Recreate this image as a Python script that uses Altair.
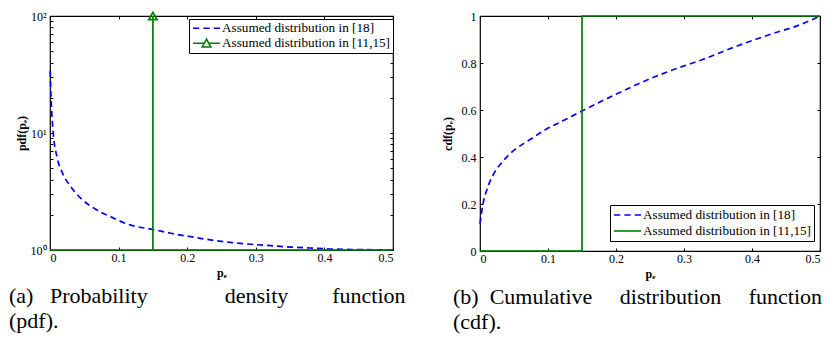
import altair as alt
import pandas as pd

# ---------------- data ----------------
SERIES = ["Assumed distribution in [18]", "Assumed distribution in [11,15]"]

# (a) pdf, blue dashed curve
pdf_p = [0.0003, 0.0015, 0.0048, 0.0102, 0.0184, 0.0305, 0.045, 0.0645, 0.0887,
         0.1177, 0.15, 0.176, 0.205, 0.234, 0.263, 0.292, 0.321, 0.35, 0.379,
         0.408, 0.44, 0.47, 0.5]
pdf_v = [34.0, 20.4, 9.9, 6.26, 4.52, 3.47, 2.76, 2.27, 1.92,
         1.63, 1.50, 1.39, 1.30, 1.22, 1.16, 1.12, 1.09, 1.06, 1.04,
         1.02, 1.01, 1.005, 1.0]

# (a) pdf, green impulse at p = 0.15
step_pdf_p = [0.0, 0.15, 0.15, 0.15, 0.5]
step_pdf_v = [1.0, 1.0, 100.0, 1.0, 1.0]
marker_p = [0.15]
marker_v = [100.0]

# (b) cdf, blue dashed curve
cdf_p = [0.0, 0.0038, 0.011, 0.0207, 0.0328, 0.0497, 0.0714, 0.098, 0.122,
         0.15, 0.1994, 0.2526, 0.279, 0.3275, 0.376, 0.424, 0.4725, 0.5]
cdf_v = [0.115, 0.191, 0.268, 0.331, 0.379, 0.428, 0.47, 0.519, 0.554,
         0.596, 0.666, 0.736, 0.766, 0.815, 0.870, 0.919, 0.965, 1.0]

# (b) cdf, green step at p = 0.15
step_cdf_p = [0.0, 0.15, 0.15, 0.5]
step_cdf_v = [0.0, 0.0, 1.0, 1.0]

# ticks
x_ticks = [0, 0.1, 0.2, 0.3, 0.4, 0.5]
pdf_major = [1, 10, 100]
pdf_minor = [1, 2, 3, 4, 5, 6, 7, 8, 9, 10, 20, 30, 40, 50, 60, 70, 80, 90, 100]
cdf_ticks = [0, 0.2, 0.4, 0.6, 0.8, 1]

NB = "\u00a0"
caption_a = ["(a)" + NB * 3 + "Probability" + NB * 14 + "density" + NB * 8 + "function", "(pdf)."]
caption_b = ["(b)" + NB * 2 + "Cumulative" + NB * 5 + "distribution" + NB * 5 + "function", "(cdf)."]

# ---------------- styling ----------------
BLUE = "#0000ff"
GREEN = "#008000"
SERIF = "Liberation Serif"
W_L, H_L = 343, 234
W_R, H_R = 340, 235
LEG_FS = 13.2

DASH_PATH = "M-1,0H-0.538M-0.231,0H0.231M0.538,0H1"
TRI_PATH = "M-1,0H-0.165M0.165,0H1M-0.32,0.28L0,-0.3L0.32,0.28Z"
LINE_PATH = "M-1,0H1"

xs = alt.Scale(domain=[0, 0.5], nice=False, zero=False)
ys_pdf = alt.Scale(type="log", domain=[1, 100], nice=False)
ys_cdf = alt.Scale(domain=[0, 1], nice=False, zero=False)


def tick_axis(orient, offset, values):
    return alt.Axis(orient=orient, offset=offset, values=values, labels=False,
                    ticks=True, tickSize=3, tickColor="black", tickWidth=1,
                    domain=False, grid=False, title=None)


def x_label_axis():
    return alt.Axis(orient="bottom", values=x_ticks, format="~g", ticks=False,
                    domain=False, grid=False, labelPadding=2, title="p\u2091",
                    titlePadding=4)


def legend(x, y, pad, clip, extra):
    return alt.Legend(
        title=None, orient="none", legendX=x, legendY=y, direction="vertical",
        strokeColor="black", fillColor="white", padding=pad, clipHeight=clip,
        symbolSize=729, symbolOffset=1, labelFont=SERIF, labelFontSize=LEG_FS,
        labelColor="black", labelLimit=400, labelOffset=1,
        labelExpr="datum.label + '" + extra + "'",
    )


def caption(lines, dx):
    return alt.TitleParams(text=lines, orient="bottom", anchor="start", frame="group",
                           dx=dx, offset=8, font=SERIF, fontSize=22,
                           fontWeight="normal", color="black", lineHeight=25)


# ---------------- (a) pdf panel ----------------
blue_pdf = pd.DataFrame({"p": pdf_p, "v": pdf_v, "s": SERIES[0]})
green_pdf = pd.DataFrame({"p": step_pdf_p, "v": step_pdf_v,
                          "i": list(range(len(step_pdf_p))), "s": SERIES[1]})
marker_df = pd.DataFrame({"p": marker_p, "v": marker_v})
legend_pdf = pd.concat([blue_pdf, green_pdf[["p", "v", "s"]]])

a_blue = alt.Chart(blue_pdf).mark_line(
    color=BLUE, strokeDash=[6, 4], strokeWidth=1.7, interpolate="monotone"
).encode(
    x=alt.X("p:Q", scale=xs, axis=x_label_axis()),
    y=alt.Y("v:Q", scale=ys_pdf, axis=alt.Axis(
        orient="left", values=pdf_major, ticks=False, domain=False, grid=False,
        labelPadding=4, title="pdf(p\u2091)", titlePadding=2,
        labelExpr="datum.value == 1 ? '10\u2070' : datum.value == 10 ? '10\u00b9' : '10\u00b2'")),
)

a_green = alt.Chart(green_pdf).mark_line(color=GREEN, strokeWidth=1.7).encode(
    x=alt.X("p:Q", scale=xs, axis=tick_axis("top", -H_L, x_ticks)),
    y=alt.Y("v:Q", scale=ys_pdf, axis=tick_axis("right", -W_L, pdf_minor)),
    order="i:Q",
)

a_marker = alt.Chart(marker_df).mark_point(
    shape="triangle-up", filled=False, color=GREEN, size=70, strokeWidth=1.7, opacity=1
).encode(
    x=alt.X("p:Q", scale=xs, axis=tick_axis("bottom", -H_L, x_ticks)),
    y=alt.Y("v:Q", scale=ys_pdf, axis=tick_axis("left", -W_L, pdf_minor)),
)

leg_a = legend(139, 3, 2, 14.5, "")
a_legend = alt.Chart(legend_pdf).mark_point(opacity=0, filled=False).encode(
    x=alt.X("p:Q", scale=xs, axis=None),
    y=alt.Y("v:Q", scale=ys_pdf, axis=None),
    color=alt.Color("s:N", scale=alt.Scale(domain=SERIES, range=[BLUE, GREEN]), legend=leg_a),
    shape=alt.Shape("s:N", scale=alt.Scale(domain=SERIES, range=[DASH_PATH, TRI_PATH]), legend=leg_a),
)

left = alt.layer(a_blue, a_green, a_marker, a_legend).resolve_axis(
    x="independent", y="independent"
).properties(width=W_L, height=H_L, title=caption(caption_a, -41))

# ---------------- (b) cdf panel ----------------
blue_cdf = pd.DataFrame({"p": cdf_p, "v": cdf_v, "s": SERIES[0]})
green_cdf = pd.DataFrame({"p": step_cdf_p, "v": step_cdf_v,
                          "i": list(range(len(step_cdf_p))), "s": SERIES[1]})
legend_cdf = pd.concat([blue_cdf, green_cdf[["p", "v", "s"]]])

b_blue = alt.Chart(blue_cdf).mark_line(
    color=BLUE, strokeDash=[6, 4], strokeWidth=1.7, interpolate="monotone"
).encode(
    x=alt.X("p:Q", scale=xs, axis=x_label_axis()),
    y=alt.Y("v:Q", scale=ys_cdf, axis=alt.Axis(
        orient="left", values=cdf_ticks, format="~g", ticks=False, domain=False,
        grid=False, labelPadding=4, title="cdf(p\u2091)", titlePadding=7)),
)

b_green = alt.Chart(green_cdf).mark_line(color=GREEN, strokeWidth=1.7).encode(
    x=alt.X("p:Q", scale=xs, axis=tick_axis("top", -H_R, x_ticks)),
    y=alt.Y("v:Q", scale=ys_cdf, axis=tick_axis("right", -W_R, cdf_ticks)),
    order="i:Q",
)

b_ticks = alt.Chart(green_cdf).mark_line(opacity=0).encode(
    x=alt.X("p:Q", scale=xs, axis=tick_axis("bottom", -H_R, x_ticks)),
    y=alt.Y("v:Q", scale=ys_cdf, axis=tick_axis("left", -W_R, cdf_ticks)),
    order="i:Q",
)

leg_b = legend(130, 189, 2, 16, NB * 3)
b_legend = alt.Chart(legend_cdf).mark_point(opacity=0, filled=False).encode(
    x=alt.X("p:Q", scale=xs, axis=None),
    y=alt.Y("v:Q", scale=ys_cdf, axis=None),
    color=alt.Color("s:N", scale=alt.Scale(domain=SERIES, range=[BLUE, GREEN]), legend=leg_b),
    shape=alt.Shape("s:N", scale=alt.Scale(domain=SERIES, range=[DASH_PATH, LINE_PATH]), legend=leg_b),
)

right = alt.layer(b_blue, b_green, b_ticks, b_legend).resolve_axis(
    x="independent", y="independent"
).properties(width=W_R, height=H_R, title=caption(caption_b, -27))

chart = alt.hconcat(left, right, spacing=87, bounds="flush").resolve_scale(
    color="independent", shape="independent"
).resolve_legend(
    color="independent", shape="independent"
).properties(
    padding=0
).configure_view(
    stroke="black", strokeWidth=1.2
).configure_axis(
    labelFont=SERIF, labelFontSize=12, labelColor="black",
    titleFont=SERIF, titleFontSize=12, titleFontWeight="bold", titleColor="black",
    grid=False,
).configure_legend(
    labelFont=SERIF, labelFontSize=LEG_FS, labelColor="black", labelLimit=400,
    labelOffset=1, rowPadding=0, symbolStrokeWidth=1.6, symbolOpacity=1,
).configure_title(
    font=SERIF, fontWeight="normal", color="black",
)

chart.save("out.html", embed_options={"renderer": "svg", "actions": False})
